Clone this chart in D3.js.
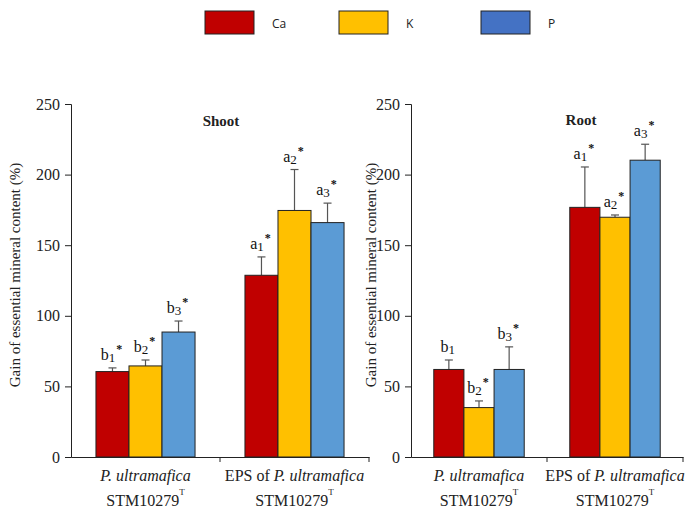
<!DOCTYPE html>
<html><head><meta charset="utf-8">
<script src="https://cdn.jsdelivr.net/npm/d3@7"></script>
<style>body{margin:0;background:#fff}svg{display:block}</style>
</head><body>
<script>
const categories = ["P. ultramafica", "EPS of P. ultramafica"];
const series = ["Ca", "K", "P"];
const legendColors = ["#C00000", "#FFC000", "#4472C4"];
const barColors = ["#C00000", "#FFC000", "#5B9BD5"];
const yTicks = [0, 50, 100, 150, 200, 250];

const shootValues = [[60.5, 64.5, 88.5], [128.7, 174.6, 166]];
const shootErrors = [[2.6, 4.2, 7.8], [13, 29, 13.8]];
const shootLetters = [[["b","1",true],["b","2",true],["b","3",true]], [["a","1",true],["a","2",true],["a","3",true]]];

const rootValues = [[62, 35, 62], [176.8, 169.8, 210.2]];
const rootErrors = [[6.7, 4.7, 16], [28.6, 1.6, 11.3]];
const rootLetters = [[["b","1",false],["b","2",true],["b","3",true]], [["a","1",true],["a","2",true],["a","3",true]]];

const W = 693, H = 511;
const svg = d3.select("body").append("svg").attr("width", W).attr("height", H);
const serif = "'Liberation Serif','Times New Roman',serif";

// legend
const legX = [205, 339, 481];
series.forEach((s, i) => {
  svg.append("rect").attr("x", legX[i]).attr("y", 11).attr("width", 49).attr("height", 23)
    .attr("fill", legendColors[i]).attr("stroke", "#222").attr("stroke-width", 1);
  svg.append("text").attr("x", legX[i] + 67).attr("y", 28).text(s)
    .attr("font-family", "'Open Sans','DejaVu Sans',sans-serif").attr("font-size", 12).attr("fill", "#222");
});

function panel(x0, x1, title, titleX, titleY, values, errors, letters, ylabX) {
  const y = d3.scaleLinear().domain([0, 250]).range([457, 104]);
  const x = d3.scaleBand().domain(categories).range([x0, x1]).paddingInner(0).paddingOuter(0);
  const inner = d3.scaleBand().domain(series).range([0, x.bandwidth() * 0.665]);
  const off = (x.bandwidth() - x.bandwidth() * 0.665) / 2;

  const ya = svg.append("g").attr("transform", `translate(${x0},0)`)
    .call(d3.axisLeft(y).tickValues(yTicks).tickSize(6).tickPadding(5));
  ya.select(".domain").attr("stroke", "#222");
  ya.selectAll(".tick line").attr("stroke", "#222");
  ya.selectAll("text").attr("font-family", serif).attr("font-size", 16).attr("fill", "#222");

  const xa = svg.append("g").attr("transform", `translate(0,457)`)
    .call(d3.axisBottom(x).tickValues([]).tickSizeOuter(0));
  xa.select(".domain").attr("stroke", "#222");
  [x0 + x.bandwidth(), x1].forEach(t => {
    svg.append("line").attr("x1", t).attr("x2", t).attr("y1", 457).attr("y2", 462).attr("stroke", "#222");
  });

  categories.forEach((c, ci) => {
    series.forEach((s, si) => {
      const bx = x(c) + off + inner(s);
      const v = values[ci][si], e = errors[ci][si];
      const cx = bx + inner.bandwidth() / 2;
      // error bar
      svg.append("line").attr("x1", cx).attr("x2", cx).attr("y1", y(v)).attr("y2", y(v + e))
        .attr("stroke", "#555").attr("stroke-width", 1.2);
      svg.append("line").attr("x1", cx - 4).attr("x2", cx + 4).attr("y1", y(v + e)).attr("y2", y(v + e))
        .attr("stroke", "#555").attr("stroke-width", 1.2);
      svg.append("rect").attr("x", bx).attr("y", y(v)).attr("width", inner.bandwidth()).attr("height", y(0) - y(v))
        .attr("fill", barColors[si]).attr("stroke", "#222").attr("stroke-width", 1);
      // letter
      const L = letters[ci][si];
      const t = svg.append("text").attr("x", cx - 1).attr("y", y(v + e) - 8).attr("text-anchor", "middle")
        .attr("font-family", serif).attr("font-size", 16).attr("fill", "#111");
      t.append("tspan").text(L[0]);
      t.append("tspan").attr("dy", 2).attr("font-size", 13).text(L[1]);
      if (L[2]) t.append("tspan").attr("dy", -9).attr("dx", 1).attr("font-size", 12).attr("font-weight", "bold").text("*");
    });
    // x labels
    const cxc = x(c) + x.bandwidth() / 2;
    const l1 = svg.append("text").attr("x", cxc).attr("y", 481).attr("text-anchor", "middle")
      .attr("font-family", serif).attr("font-size", 16).attr("fill", "#222");
    if (c.startsWith("EPS")) {
      l1.append("tspan").text("EPS of ");
      l1.append("tspan").attr("font-style", "italic").text("P. ultramafica");
    } else {
      l1.append("tspan").attr("font-style", "italic").text(c);
    }
    const l2 = svg.append("text").attr("x", cxc).attr("y", 506).attr("text-anchor", "middle")
      .attr("font-family", serif).attr("font-size", 16).attr("fill", "#222");
    l2.append("tspan").text("STM10279");
    l2.append("tspan").attr("dy", -11).attr("font-size", 9).text("T");
  });

  svg.append("text").attr("x", titleX).attr("y", titleY).attr("text-anchor", "middle")
    .attr("font-family", serif).attr("font-size", 15).attr("font-weight", "bold").attr("fill", "#222").text(title);

  svg.append("text").attr("transform", `translate(${ylabX},275) rotate(-90)`).attr("text-anchor", "middle")
    .attr("font-family", serif).attr("font-size", 15).attr("fill", "#222")
    .text("Gain of essential mineral content (%)");
}

panel(71, 369, "Shoot", 221, 126, shootValues, shootErrors, shootLetters, 20);
panel(411, 683, "Root", 581, 125, rootValues, rootErrors, rootLetters, 376);
</script>
</body></html>
